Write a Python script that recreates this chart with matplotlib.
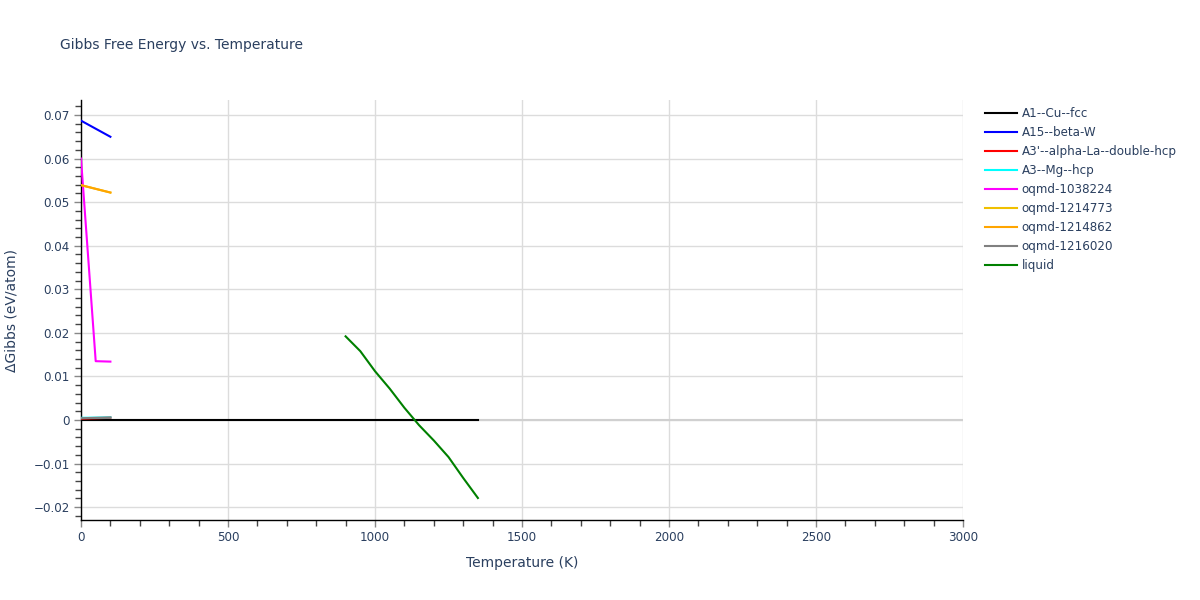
import matplotlib
matplotlib.use("Agg")
import matplotlib.pyplot as plt
from matplotlib.ticker import MultipleLocator, FuncFormatter

# ---- data ----
t_a1 = [0, 1350]
g_a1 = [0.0, 0.0]
t_a15 = [0, 100]
g_a15 = [0.0687, 0.0650]
t_a3p = [0, 100]
g_a3p = [0.0003, 0.0005]
t_a3 = [0, 100]
g_a3 = [0.0005, 0.0006]
t_1038224 = [0, 50, 100]
g_1038224 = [0.0600, 0.0135, 0.0134]
t_1214773 = [0, 100]
g_1214773 = [0.0539, 0.0522]
t_1214862 = [0, 100]
g_1214862 = [0.0539, 0.0522]
t_1216020 = [0, 100]
g_1216020 = [0.0004, 0.0006]
t_liquid = [900, 950, 1000, 1050, 1100, 1150, 1200, 1250, 1300, 1350]
g_liquid = [0.0192, 0.0158, 0.0112, 0.0072, 0.0028, -0.0012, -0.0047, -0.0085, -0.0133, -0.0179]

series = [
    ("A1--Cu--fcc", t_a1, g_a1, "black"),
    ("A15--beta-W", t_a15, g_a15, "blue"),
    ("A3'--alpha-La--double-hcp", t_a3p, g_a3p, "red"),
    ("A3--Mg--hcp", t_a3, g_a3, "cyan"),
    ("oqmd-1038224", t_1038224, g_1038224, "magenta"),
    ("oqmd-1214773", t_1214773, g_1214773, "#f0c000"),
    ("oqmd-1214862", t_1214862, g_1214862, "orange"),
    ("oqmd-1216020", t_1216020, g_1216020, "gray"),
    ("liquid", t_liquid, g_liquid, "green"),
]

title = "Gibbs Free Energy vs. Temperature"
xlabel = "Temperature (K)"
ylabel = "ΔGibbs (eV/atom)"

txt = "#2a3f5f"
plt.rcParams['font.family'] = ['DejaVu Sans']

fig = plt.figure(figsize=(12, 6), dpi=100)
ax = fig.add_axes([81/1200, 80/600, 882/1200, 420/600])

ax.set_xlim(0, 3000)
ax.set_ylim(-0.02295, 0.07344)

ax.axhline(0, color="#d0d0d0", lw=1.5, zorder=1)
for name, t, g, c in series:
    ax.plot(t, g, color=c, lw=1.5, label=name, zorder=3)

ax.xaxis.set_major_locator(MultipleLocator(500))
ax.xaxis.set_minor_locator(MultipleLocator(100))
ax.yaxis.set_major_locator(MultipleLocator(0.01))
ax.yaxis.set_minor_locator(MultipleLocator(0.002))
ax.yaxis.set_major_formatter(FuncFormatter(lambda v, p: "0" if abs(v) < 1e-9 else ("%.2f" % v).replace("-", "−")))
ax.xaxis.set_major_formatter(FuncFormatter(lambda v, p: "%d" % v))

ax.grid(True, which="major", color="#dcdcdc", lw=1, zorder=0)
ax.set_axisbelow(True)
for s in ["top", "right"]:
    ax.spines[s].set_visible(False)
for s in ["left", "bottom"]:
    ax.spines[s].set_color("black")
    ax.spines[s].set_linewidth(1)

ax.tick_params(axis="both", which="major", length=5, width=1, color="#888888",
               labelcolor=txt, labelsize=8.6, pad=3)
ax.tick_params(axis="both", which="minor", length=4, width=1, color="#444444")

fig.text(60/1200, 1 - 45/600, title, fontsize=10, color=txt, va="center", ha="left")
fig.text(522/1200, 1 - 563/600, xlabel, fontsize=10, color=txt, va="center", ha="center")
fig.text(12/1200, 1 - 310/600, ylabel, fontsize=10, color=txt, va="center", ha="center", rotation=90)

leg = fig.legend(loc="upper left", bbox_to_anchor=(985/1200, 1 - 107/600), frameon=False,
                 fontsize=8.6, handlelength=2.7, handletextpad=0.35, labelspacing=0.5,
                 borderaxespad=0, borderpad=0)
for t in leg.get_texts():
    t.set_color(txt)

fig.savefig("out.png", dpi=100)
